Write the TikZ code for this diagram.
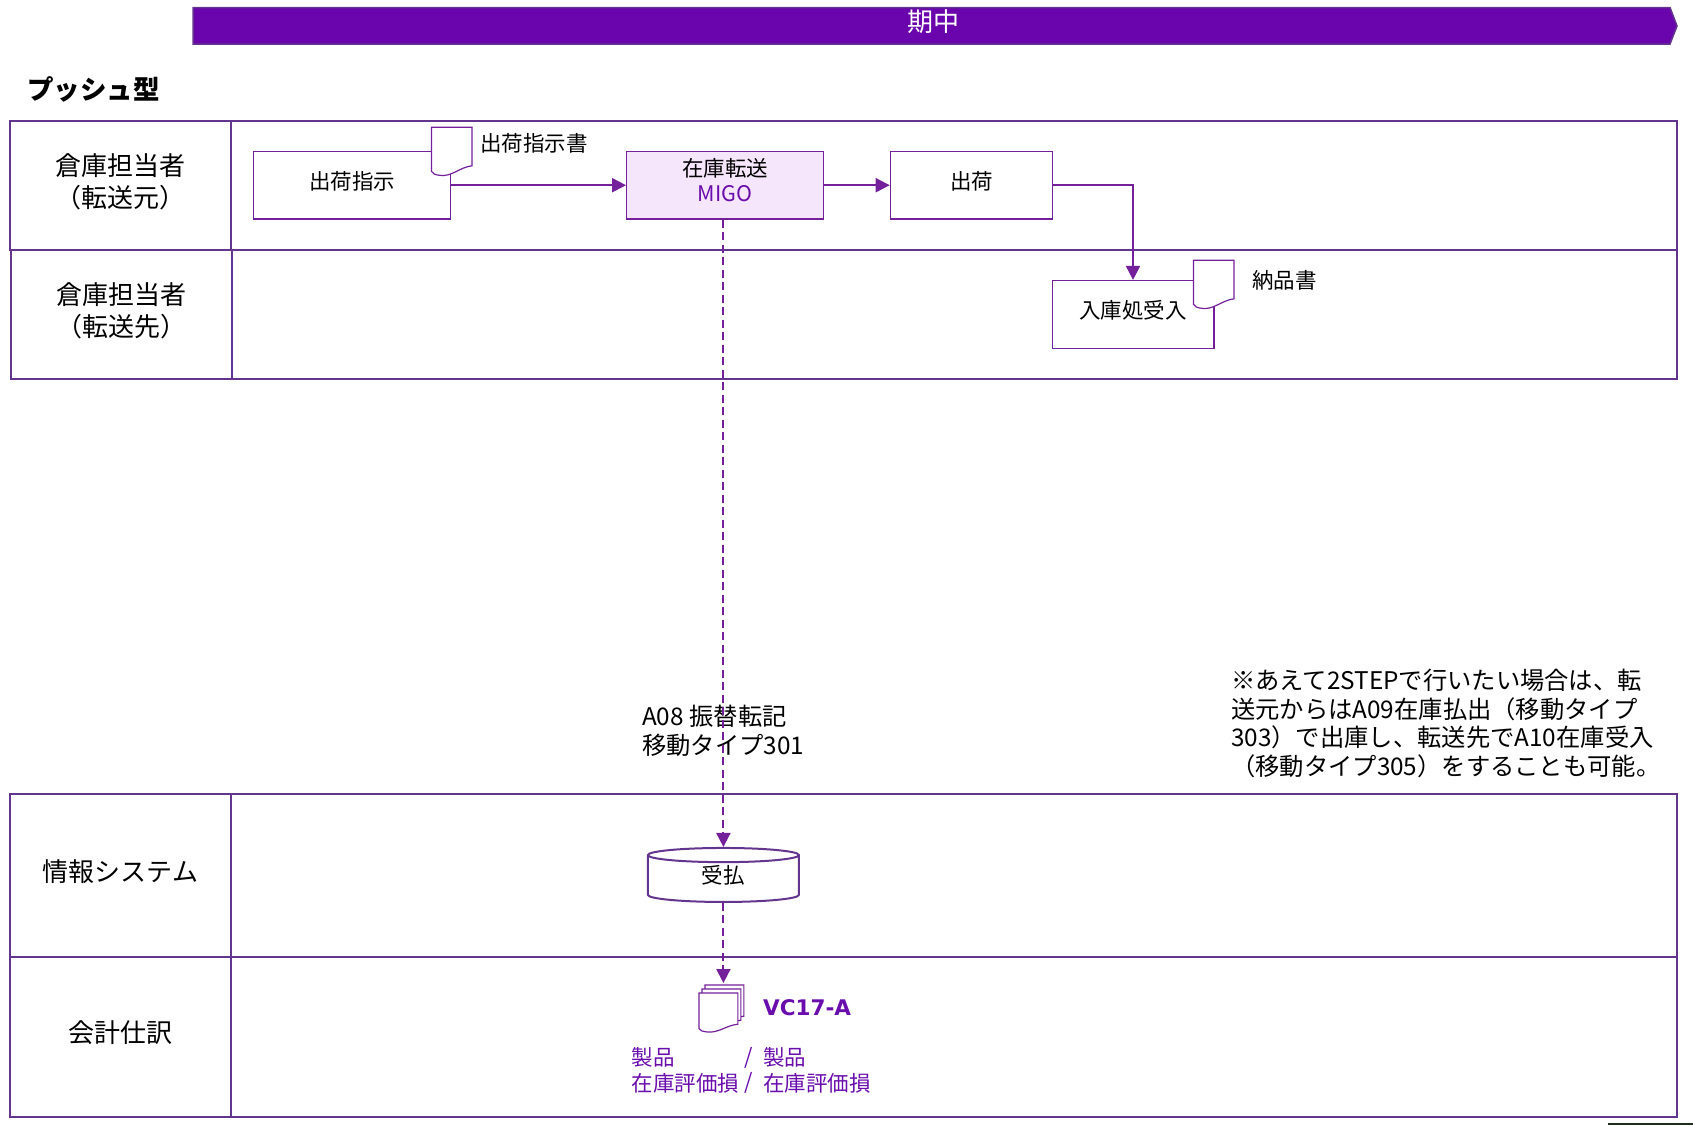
\documentclass[tikz,border=0pt]{standalone}
\usepackage{fontspec}
\setmainfont{Noto Sans CJK JP}
\newfontfamily\latinbold{DejaVu Sans}
\usetikzlibrary{shapes.geometric,arrows.meta}
\definecolor{lanecolor}{HTML}{64358F}
\definecolor{flowcolor}{HTML}{74209A}
\definecolor{bannercolor}{HTML}{6A04AC}
\definecolor{textpurple}{HTML}{6A0DAD}
\definecolor{boxfill}{HTML}{F6E6FB}
\definecolor{cornercolor}{HTML}{1A2E1A}
\newcommand{\fsmall}{\fontsize{21.5}{25.5}\selectfont}
\newcommand{\fmid}{\fontsize{24.3}{28.6}\selectfont}
\newcommand{\flarge}{\fontsize{26}{32}\selectfont}
\tikzset{
lanehead/.style={shape=rectangle,draw=lanecolor,align=center,line width=2pt,minimum width=221pt,font=\flarge,inner sep=0pt,text depth=10pt},
lanebody/.style={shape=rectangle,draw=lanecolor,line width=2pt,minimum width=1446pt,inner sep=0pt},
taskbox/.style={shape=rectangle,draw=flowcolor,align=center,line width=1.2pt,minimum height=67.6pt,inner sep=0pt,font=\fsmall,text depth=10pt},
flowline/.style={draw=flowcolor,line width=2pt,-{Triangle[length=14pt,width=14pt]}},
dashline/.style={flowline,dash pattern=on 8pt off 4.5pt},
doctext/.style={anchor=west,inner sep=0pt,font=\fsmall},
docicon/.pic={\draw[draw=flowcolor,fill=white,line width=1.2pt] (0,0) -- (40.5,0) -- (40.5,38.5) .. controls (28,40) and (20,50) .. (8,48) .. controls (4,47.5) and (1,46.5) .. (0,44) -- cycle;}
}
\begin{document}
\begin{tikzpicture}[x=1pt,y=-1pt]
\useasboundingbox (0,0) rectangle (1693,1125);
\draw[draw=lanecolor,fill=bannercolor,line width=1.5pt] (193,7.5) -- (1670,7.5) -- (1677,26) -- (1670,44) -- (193,44) -- cycle;
\node[text=white,font=\flarge,inner sep=0pt] (0) at (933,22) {期中};
\node[anchor=west,inner sep=0pt,font=\fontsize{26.5}{32}\selectfont\bfseries] (1) at (27,89) {プッシュ型};

\node[lanehead,minimum height=129pt] (2) at (120.5,185.2) {倉庫担当者\\（転送元）};
\node[lanebody,minimum height=129pt] (3) at (954,185.2) {};
\node[lanehead,minimum height=129pt] (4) at (121.5,314.2) {倉庫担当者\\（転送先）};
\node[lanebody,minimum width=1445pt,minimum height=129pt] (5) at (954.5,314.2) {};
\node[lanehead,minimum height=163pt] (6) at (120.5,875.5) {情報システム};
\node[lanebody,minimum height=163pt] (7) at (954,875.5) {};
\node[lanehead,minimum height=160pt] (8) at (120.5,1037) {会計仕訳};
\node[lanebody,minimum height=160pt] (9) at (954,1037) {};

\node[taskbox,minimum width=196.7pt] (10) at (352,185.2) {出荷指示};
\node[taskbox,fill=boxfill,minimum width=196.7pt] (11) at (725,185.2) {在庫転送\\{\color{textpurple}MIGO}};
\node[taskbox,minimum width=162.4pt] (12) at (971.5,185.2) {出荷};
\node[taskbox,minimum width=161.8pt] (13) at (1133,314.3) {入庫処受入};
\node[shape=cylinder,shape border rotate=90,shape aspect=0.33,draw=lanecolor,fill=white,line width=2pt,minimum width=151pt,minimum height=54pt,inner sep=0pt,font=\fsmall,text depth=10pt] (14) at (723.4,879) {受払};

\pic at (431.4,127.3) {docicon};
\pic at (1193.5,260.3) {docicon};
\foreach \d in {2,1,0} {\pic[xscale=.96,yscale=.81] at (699+3*\d,993-4*\d) {docicon};}
\coordinate (15) at (723.4,983);

\node[doctext] (16) at (480,143) {出荷指示書};
\node[doctext] (17) at (1252,280) {納品書};
\node[anchor=west,inner sep=0pt,align=left,font=\fmid] (18) at (642,731) {A08 振替転記\\移動タイプ301};
\node[anchor=west,inner sep=0pt,align=left,font=\fmid] (19) at (1231,723.5) {※あえて2STEPで行いたい場合は、転\\送元からはA09在庫払出（移動タイプ\\303）で出庫し、転送先でA10在庫受入\\（移動タイプ305）をすることも可能。};
\node[anchor=west,inner sep=0pt,text=textpurple,font=\fontsize{21.5}{26}\selectfont\latinbold\bfseries] (20) at (763,1007.7) {VC17-A};
\node[doctext,text=textpurple,align=left] (21) at (631.7,1070.5) {製品\\在庫評価損};
\node[doctext,text=textpurple,align=left] (22) at (744,1070.5) {/\\/};
\node[doctext,text=textpurple,align=left] (23) at (763,1070.5) {製品\\在庫評価損};
\fill[cornercolor] (1608,1122.5) rectangle (1693,1125);

\path (10) edge[flowline] node {} (11);
\path (11) edge[flowline] node {} (12);
\path (12.east) edge[flowline,to path={-| (\tikztotarget)}] node {} (13.north);
\path (11.south -| 14.north) edge[dashline] node {} (14.north);
\path (14.south) edge[dashline] node {} (15);
\end{tikzpicture}
\end{document}
